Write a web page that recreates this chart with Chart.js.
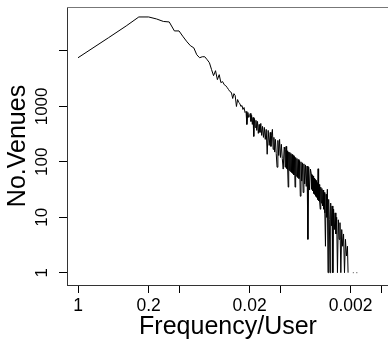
<!DOCTYPE html>
<html>
<head>
<meta charset="utf-8">
<script src="https://cdn.jsdelivr.net/npm/chart.js@4.4.1/dist/chart.umd.min.js"></script>
<style>
  html, body { margin: 0; padding: 0; overflow: hidden; background: #fff; width: 388px; height: 345px; }
  #wrap { width: 395px; height: 345px; }
</style>
</head>
<body>
<div id="wrap"><canvas id="chartCanvas" width="395" height="345"></canvas></div>
<script>
// head of the curve: one point per frequency 1/n, n = 1..50
const headFreq = [
  1, 0.5, 0.3333, 0.25, 0.2, 0.1667, 0.1429, 0.125, 0.1111, 0.1,
  0.0909, 0.0833, 0.0769, 0.0714, 0.0667, 0.0625, 0.0588, 0.0556, 0.0526, 0.05,
  0.0476, 0.0455, 0.0435, 0.0417, 0.04, 0.0385, 0.037, 0.0357, 0.0345, 0.0333,
  0.0323, 0.0313, 0.0303, 0.0294, 0.0286, 0.0278, 0.027, 0.0263, 0.0256, 0.025,
  0.0244, 0.0238, 0.0233, 0.0227, 0.0222, 0.0217, 0.0213, 0.0208, 0.0204, 0.02
];
const headVenues = [
  7550, 17300, 28300, 41100, 41100, 37800, 34100, 33400, 23000, 23000,
  18000, 14600, 12400, 11400, 8550, 7550, 7870, 7870, 6950, 6140,
  4600, 3590, 4410, 3040, 3740, 2690, 2800, 2470, 2370, 2180,
  2010, 1850, 1780, 1390, 1700, 1570, 996, 1330, 1175, 1127,
  996, 1038, 880, 956, 777, 810, 473, 777, 632, 686
];

// noisy tail
const tailFreq = [
  0.0197, 0.0194, 0.0191, 0.0188, 0.0185, 0.0182, 0.0179, 0.0176, 0.0173, 0.0170,
  0.0167, 0.0164, 0.0161, 0.0158, 0.0155, 0.0152, 0.0149, 0.0146, 0.0143, 0.0140,
  0.0137, 0.0134, 0.0131, 0.0128, 0.0125,
  0.0123, 0.0121, 0.0119, 0.0117, 0.0115, 0.0113, 0.0111, 0.0109, 0.0107, 0.0105,
  0.0103, 0.0101, 0.0099, 0.0097, 0.0095, 0.0093, 0.0091,
  0.0090, 0.0089, 0.0088, 0.0087, 0.0086, 0.0085, 0.0084, 0.0083, 0.0082, 0.0081,
  0.0080, 0.0079, 0.0078, 0.0077, 0.0076, 0.0075, 0.0074, 0.0073, 0.0072, 0.0071,
  0.0070, 0.0069, 0.0068, 0.0067, 0.0066, 0.0065, 0.0064, 0.0063, 0.0062, 0.0061,
  0.0060, 0.0059, 0.0058, 0.0057, 0.0056, 0.0055, 0.0054, 0.0053, 0.0052, 0.0051,
  0.0050,
  0.00490, 0.00485, 0.00480, 0.00475, 0.00470, 0.00465, 0.00460, 0.00455, 0.00450, 0.00445,
  0.00440, 0.00435, 0.00430, 0.00425, 0.00420, 0.00415, 0.00410, 0.00405, 0.00400, 0.00395,
  0.00390, 0.00385, 0.00380, 0.00375, 0.00370, 0.00365, 0.00360, 0.00355, 0.00350, 0.00345,
  0.00340, 0.00335, 0.00330, 0.00325, 0.00320, 0.00315, 0.00310, 0.00305, 0.00300, 0.00295,
  0.00290, 0.00285, 0.00280, 0.00275, 0.00270, 0.00265, 0.00260, 0.00255, 0.00250, 0.00245,
  0.00240, 0.00235, 0.00230, 0.00225, 0.00220, 0.00215, 0.00212,
  0.00200, 0.00190, 0.00187, 0.00180, 0.00175, 0.00172
];
const tailVenues = [
  745, 536, 690, 473, 632, 288, 605, 418, 560, 369,
  536, 326, 473, 340, 493, 300, 436, 276, 418, 254,
  385, 137, 369, 198, 340,
  190, 300, 385, 168, 276, 150, 254, 140, 80, 244,
  130, 254, 120, 207, 115, 74, 183,
  170, 80, 165, 190, 76, 158, 72, 35, 150, 70,
  148, 67, 142, 64, 136, 62, 130, 58, 125, 35,
  120, 55, 115, 52, 110, 50, 105, 24, 100, 45,
  96, 28, 92, 40, 88, 36, 84, 4, 80, 31,
  74,
  60, 32, 57, 30, 55, 27, 51, 26, 48, 24,
  46, 23, 42, 21, 75, 20, 39, 19, 14, 35,
  18, 33, 16, 31, 14, 28, 12, 3, 26, 10,
  32, 1, 21, 9, 1, 18, 7, 16, 1, 14,
  6, 12, 5, 10, 1, 9, 4, 8, 1, 6,
  3, 5, 1, 4, 2, 3, 1,
  null, 1, 1, null, 1, 1
];

const xTicks = [1, 0.2, 0.1, 0.02, 0.01, 0.002, 0.001];
const xTickLabels = ['1', '0.2', '', '0.02', '', '0.002', ''];
const yTicks = [1, 10, 100, 1000, 10000];
const yTickLabels = ['1', '10', '100', '1000', ''];

const FONT = "'Liberation Sans', Arial, sans-serif";

const freq = headFreq.concat(tailFreq);
const venues = headVenues.concat(tailVenues);
const points = freq.map((f, i) => ({ x: f, y: venues[i] }));

// rotated y tick labels + top frame line (R style)
const frameAndLabels = {
  id: 'frameAndLabels',
  afterDraw(chart) {
    const ctx = chart.ctx;
    const area = chart.chartArea;
    const y = chart.scales.y;
    ctx.save();
    ctx.strokeStyle = '#777';
    ctx.lineWidth = 1;
    ctx.beginPath();
    ctx.moveTo(area.left, area.top + 0.5);
    ctx.lineTo(area.right, area.top + 0.5);
    ctx.stroke();

    ctx.fillStyle = '#000';
    ctx.font = '17px ' + FONT;
    ctx.textAlign = 'center';
    ctx.textBaseline = 'middle';
    yTicks.forEach((v, i) => {
      if (!yTickLabels[i]) return;
      ctx.save();
      ctx.translate(42.5, y.getPixelForValue(v));
      ctx.rotate(-Math.PI / 2);
      ctx.fillText(yTickLabels[i], 0, 0);
      ctx.restore();
    });
    ctx.restore();
  }
};

const ctx = document.getElementById('chartCanvas').getContext('2d');
new Chart(ctx, {
  type: 'line',
  data: {
    datasets: [{
      data: points,
      borderColor: '#000',
      borderWidth: 1,
      pointRadius: 0,
      tension: 0,
      spanGaps: false
    }]
  },
  options: {
    responsive: false,
    animation: false,
    events: [],
    layout: { padding: { top: 7, right: 6, left: 0, bottom: 0 } },
    plugins: { legend: { display: false }, tooltip: { enabled: false } },
    scales: {
      x: {
        type: 'logarithmic',
        reverse: true,
        min: 0.000834,
        max: 1.285,
        afterBuildTicks: (scale) => { scale.ticks = xTicks.map(v => ({ value: v })); },
        afterFit: (scale) => { scale.height = 60; },
        grid: { drawOnChartArea: false, drawTicks: true, tickLength: 8, color: '#000', tickColor: '#000' },
        border: { display: true, color: '#333', width: 1 },
        ticks: {
          autoSkip: false,
          maxRotation: 0,
          padding: 3,
          color: '#000',
          font: { family: FONT, size: 17.5 },
          callback: (v, i) => xTickLabels[i]
        },
        title: {
          display: true,
          text: 'Frequency/User',
          color: '#000',
          font: { family: FONT, size: 25 },
          padding: { top: 0, bottom: 3 }
        }
      },
      y: {
        type: 'logarithmic',
        min: 0.635,
        max: 62150,
        afterBuildTicks: (scale) => { scale.ticks = yTicks.map(v => ({ value: v })); },
        afterFit: (scale) => { scale.width = 67; },
        grid: { drawOnChartArea: false, drawTicks: true, tickLength: 8, color: '#000', tickColor: '#000' },
        border: { display: true, color: '#333', width: 1 },
        ticks: { display: false },
        title: {
          display: true,
          text: 'No.Venues',
          color: '#000',
          font: { family: FONT, size: 25 },
          padding: { top: 3, bottom: 0 }
        }
      }
    }
  },
  plugins: [frameAndLabels]
});
</script>
</body>
</html>
